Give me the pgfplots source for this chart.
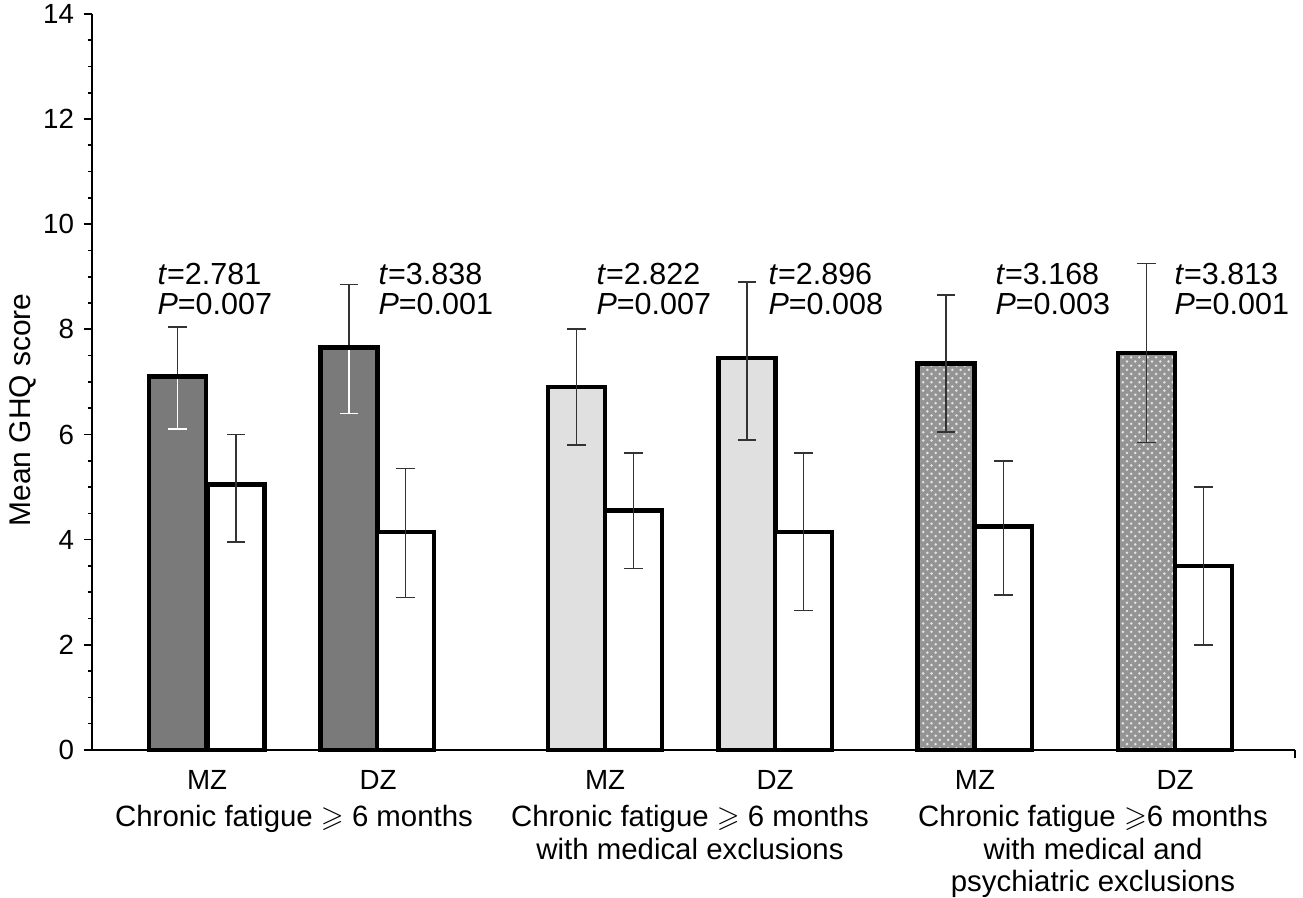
\documentclass[border=0pt]{standalone}
\usepackage{pgfplots}
\pgfplotsset{compat=1.18}
\usepackage{amssymb}
\usepackage{fontspec}
\setmainfont{Liberation Sans}
\usetikzlibrary{patterns}

\definecolor{darkbar}{gray}{0.48}
\definecolor{lightbar}{gray}{0.88}
\definecolor{dotbar}{gray}{0.58}
\definecolor{errcol}{gray}{0.2}

\newcommand{\ann}[3]{\node[anchor=west, inner sep=0pt, align=left,
  font=\fontsize{11}{10.8}\selectfont] at (axis cs:#1,8.77) {\textit{t}=#2\\\textit{P}=#3};}

\begin{document}
\begin{tikzpicture}
\useasboundingbox (-33.2pt,-53.4pt) rectangle (436.8pt,270.5pt);
\begin{axis}[
    at={(0,0)}, anchor=south west,
    scale only axis,
    width=433.9pt, height=265.5pt,
    xmin=92, xmax=1295, ymin=0, ymax=14,
    axis lines*=left,
    axis line style={line width=0.7pt},
    clip=false,
    ybar, bar width=57, bar shift=0pt,
    /pgf/number format/assume math mode=true,
    ytick={0,2,...,14},
    minor y tick num=3,
    tick align=outside,
    major tick length=3pt, minor tick length=1.6pt,
    y tick style={line width=0.6pt, black},
    yticklabel style={font=\fontsize{10}{12}\selectfont},
    xtick={207,378,605,775,975,1175},
    xticklabels={MZ,DZ,MZ,DZ,MZ,DZ},
    x tick style={draw=none},
    xticklabel style={font=\fontsize{10}{12}\selectfont, yshift=-0.8pt},
    extra x ticks={1295},
    extra x tick labels={},
    extra x tick style={x tick style={draw=black, line width=0.6pt}, major tick length=3pt},
    ylabel={Mean GHQ score},
    every axis y label/.style={at={(axis description cs:-0.0574,0.462)}, rotate=90, anchor=center,
        font=\fontsize{10.8}{12}\selectfont},
    error bars/error bar style={line width=0.6pt, errcol},
    error bars/error mark options={rotate=90, mark size=3.3pt, line width=0.6pt, errcol},
]
% dark bars (chronic fatigue >= 6 months), error bars above the bar
\addplot[fill=darkbar, draw=black, line width=1.7pt, mark=none,
    error bars/.cd, y dir=plus, y explicit] coordinates {
    (177.5,7.10) += (0,0.95) -= (0,1.00)
    (349.0,7.65) += (0,1.20) -= (0,1.25)
};
% white lower halves of the error bars inside the dark bars
\addplot[draw=none, fill=none, mark=none, error bars/.cd, y dir=minus, y explicit,
    error bar style={white, line width=0.6pt}, error mark options={rotate=90, mark size=3.3pt, white, line width=0.6pt}]
    coordinates {
    (177.5,7.10) += (0,0.95) -= (0,1.00)
    (349.0,7.65) += (0,1.20) -= (0,1.25)
};
\addplot[fill=none, draw=black, line width=1.7pt, mark=none] coordinates {(177.5,7.10) (349.0,7.65)};
% light bars (with medical exclusions)
\addplot[fill=lightbar, draw=black, line width=1.6pt, mark=none,
    error bars/.cd, y dir=both, y explicit] coordinates {
    (576.5,6.90) += (0,1.10) -= (0,1.10)
    (747.0,7.45) += (0,1.45) -= (0,1.55)
};
% dotted bars (with medical and psychiatric exclusions)
\addplot[fill=dotbar, postaction={pattern=crosshatch dots, pattern color=white!80!gray},
    draw=black, line width=1.7pt, mark=none,
    error bars/.cd, y dir=both, y explicit] coordinates {
    (946.0,7.35) += (0,1.30) -= (0,1.30)
    (1146.5,7.55) += (0,1.70) -= (0,1.70)
};
% white bars (co-twins)
\addplot[fill=white, draw=black, line width=1.6pt, mark=none,
    error bars/.cd, y dir=both, y explicit] coordinates {
    (236.0,5.05) += (0,0.95) -= (0,1.10)
    (405.5,4.15) += (0,1.20) -= (0,1.25)
    (633.5,4.55) += (0,1.10) -= (0,1.10)
    (803.5,4.15) += (0,1.50) -= (0,1.50)
    (1003.5,4.25) += (0,1.25) -= (0,1.30)
    (1203.5,3.50) += (0,1.50) -= (0,1.50)
};
\ann{157}{2.781}{0.007}
\ann{378}{3.838}{0.001}
\ann{596}{2.822}{0.007}
\ann{768}{2.896}{0.008}
\ann{995}{3.168}{0.003}
\ann{1174}{3.813}{0.001}
\begin{scope}[every node/.style={anchor=north, align=center, inner sep=0pt,
    font=\fontsize{10.6}{11.7}\selectfont}]
\node at (axis cs:294,-1.05) {Chronic fatigue $\geqslant$ 6 months};
\node at (axis cs:690,-1.05) {Chronic fatigue $\geqslant$ 6 months\\with medical exclusions};
\node at (axis cs:1093,-1.05) {Chronic fatigue $\geqslant$6 months\\with medical and\\psychiatric exclusions};
\end{scope}
\end{axis}
\end{tikzpicture}
\end{document}
